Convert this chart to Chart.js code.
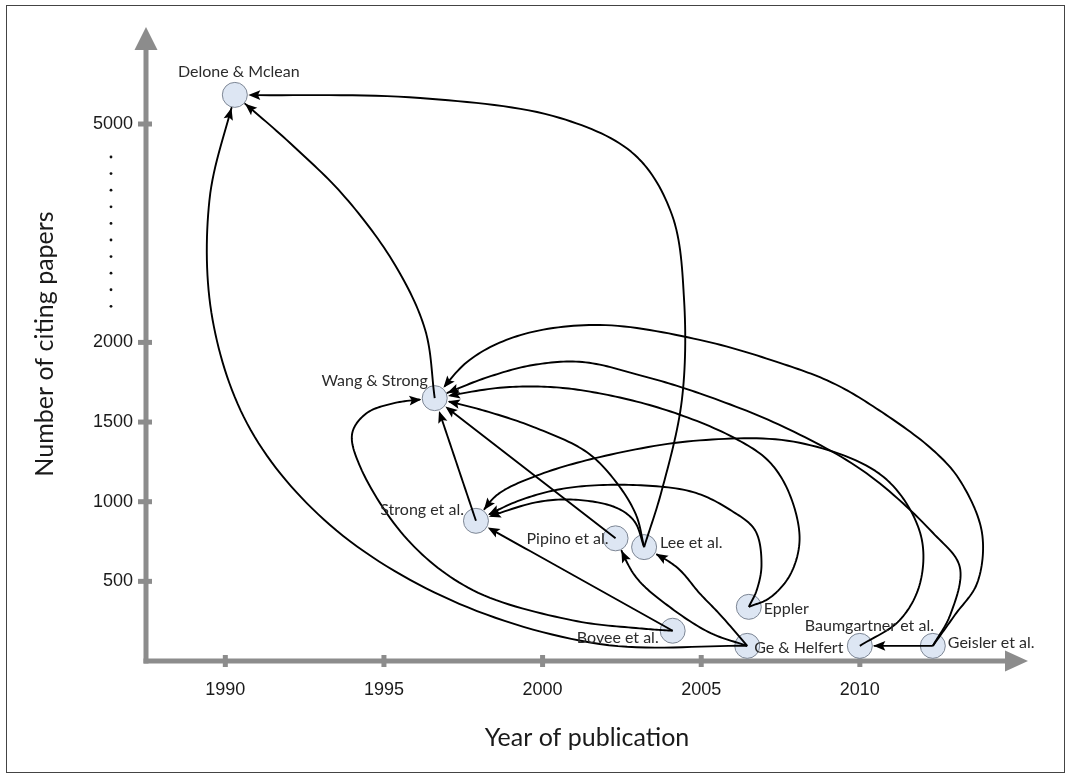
<!DOCTYPE html>
<html lang="en">
<head>
<meta charset="UTF-8">
<title>Citation graph</title>
<script src="https://cdn.jsdelivr.net/npm/chart.js@4.4.1/dist/chart.umd.min.js"></script>
<style>
  html, body { margin: 0; padding: 0; background: #fff; }
  #wrap { width: 1071px; height: 779px; }
</style>
</head>
<body>
<div id="wrap"><canvas id="citeChart" width="1071" height="779"></canvas></div>
<script>
// papers (nodes of the graph)
const papers = ['Delone & Mclean', 'Wang & Strong', 'Strong et al.', 'Pipino et al.', 'Lee et al.',
  'Bovee et al.', 'Eppler', 'Ge & Helfert', 'Baumgartner et al.', 'Geisler et al.'];
const pubYears = [1990.3, 1996.6, 1997.9, 2002.3, 2003.2, 2004.1, 2006.5, 2006.45, 2010.0, 2012.3];
const citingPapers = [5400, 1650, 880, 770, 715, 190, 340, 95, 95, 95];

const xTicks = [1990, 1995, 2000, 2005, 2010];
const yTicks = [500, 1000, 1500, 2000, 5000];

// citations: citing paper index -> cited paper index
const citeFrom = [7, 1, 4, 2, 3, 4, 9, 9, 6, 8, 6, 4, 5, 5, 7, 7, 9];
const citeTo   = [0, 0, 0, 1, 1, 1, 1, 1, 1, 2, 2, 2, 2, 1, 3, 4, 8];
// points each citation arrow passes through, as [year, citing papers]
const citeRoutes = [
  [[2001.8, 107], [1997.1, 383], [1993.3, 854], [1990.8, 1450], [1989.6, 2308], [1989.5, 3956]],
  [[1996.3, 2171], [1995.35, 3063], [1993.77, 3997], [1992.04, 4739]],
  [[2003.76, 1073], [2004.39, 1638], [2004.46, 2582], [2004.08, 3750], [2002.91, 4574],
   [2000.55, 5083], [1996.14, 5357]],
  [],
  [],
  [[2002.95, 915], [2002.35, 1115], [2001.4, 1310], [1999.7, 1470], [1998.1, 1575]],
  [[2013.0, 290], [2013.7, 490], [2013.85, 805], [2013.15, 1135], [2012.3, 1325], [2010.6, 1575],
   [2009.15, 1745], [2007.5, 1870], [2004.95, 2035], [2001.8, 2240], [1999.3, 2100], [1997.7, 1890]],
  [[2012.85, 290], [2013.15, 590], [2012.3, 805], [2010.2, 1180], [2007.6, 1470], [2004.95, 1680],
   [2003.05, 1795], [2001.25, 1877], [1999.7, 1858], [1998.2, 1777]],
  [[2007.15, 395], [2007.8, 540], [2008.1, 760], [2007.8, 1040], [2007.15, 1250], [2006.0, 1405],
   [2003.9, 1575], [2001.8, 1680], [2000.25, 1720], [1998.65, 1715]],
  [[2011.25, 255], [2011.9, 490], [2011.9, 805], [2010.75, 1155], [2008.1, 1370], [2004.95, 1385],
   [2001.8, 1280], [1999.7, 1155], [1998.55, 1040]],
  [[2006.75, 445], [2006.9, 605], [2006.7, 820], [2005.9, 950], [2004.75, 1060], [2002.85, 1105],
   [2000.75, 1085], [1999.3, 1010]],
  [[2002.9, 875], [2002.35, 960], [2001.2, 1010], [1999.9, 1000]],
  [],
  [[2003.05, 205], [2000.95, 255], [1997.8, 445], [1995.75, 760], [1994.25, 1220], [1994.0, 1430],
   [1994.45, 1555], [1995.35, 1620]],
  [[2005.3, 175], [2004.0, 340], [2002.95, 525]],
  [[2005.6, 290], [2004.95, 425], [2004.25, 585]],
  []
];

// label placement next to each node: [align, dx, dy]
const labelPlacement = [
  ['center', 4, -23], ['right', -7, -17], ['right', -12, -11], ['right', -7, 1], ['left', 16, -4],
  ['right', -14, 7], ['left', 15, 2], ['left', 7, 2], ['left', -55, -20], ['left', 15, -3]
];

// the y axis is broken above 2000
const BREAK = 2000, SQUEEZE = 0.457;
const toAxis = v => v <= BREAK ? v : BREAK + (v - BREAK) * SQUEEZE;

const GREY = '#8c8c8c';
const NODE_R = 12.5;
const LABEL_FONT = '16px Lato';

function centripetal(p0, p1, p2, p3, s) {
  const d = (a, b) => Math.max(Math.sqrt(Math.hypot(b.x - a.x, b.y - a.y)), 1e-4);
  const t0 = 0, t1 = t0 + d(p0, p1), t2 = t1 + d(p1, p2), t3 = t2 + d(p2, p3);
  const t = t1 + (t2 - t1) * s;
  const lerp = (a, b, ta, tb) => ({
    x: (tb - t) / (tb - ta) * a.x + (t - ta) / (tb - ta) * b.x,
    y: (tb - t) / (tb - ta) * a.y + (t - ta) / (tb - ta) * b.y
  });
  const A1 = lerp(p0, p1, t0, t1), A2 = lerp(p1, p2, t1, t2), A3 = lerp(p2, p3, t2, t3);
  const B1 = lerp(A1, A2, t0, t2), B2 = lerp(A2, A3, t1, t3);
  return lerp(B1, B2, t1, t2);
}

function smoothPath(pts) {
  if (pts.length === 2) {
    const out = [];
    for (let s = 0; s <= 40; s++) {
      out.push({x: pts[0].x + (pts[1].x - pts[0].x) * s / 40, y: pts[0].y + (pts[1].y - pts[0].y) * s / 40});
    }
    return out;
  }
  const n = pts.length;
  const ext = [
    {x: 2 * pts[0].x - pts[1].x, y: 2 * pts[0].y - pts[1].y},
    ...pts,
    {x: 2 * pts[n - 1].x - pts[n - 2].x, y: 2 * pts[n - 1].y - pts[n - 2].y}
  ];
  const out = [pts[0]];
  for (let i = 1; i < ext.length - 2; i++) {
    for (let s = 1; s <= 16; s++) out.push(centripetal(ext[i - 1], ext[i], ext[i + 1], ext[i + 2], s / 16));
  }
  return out;
}

const graphPlugin = {
  id: 'citeGraph',
  beforeDatasetsDraw(chart) {
    const {ctx, chartArea: a, scales: {x, y}} = chart;
    ctx.save();
    // outer frame
    ctx.strokeStyle = '#444';
    ctx.lineWidth = 1;
    ctx.strokeRect(6.5, 5.5, 1058, 767);
    // axis lines with arrow heads
    ctx.fillStyle = GREY;
    ctx.fillRect(a.left - 2.5, a.top + 20, 5, a.bottom - a.top - 20 + 2.5);
    ctx.fillRect(a.left - 2.5, a.bottom - 2.5, a.right - a.left - 20, 5);
    ctx.beginPath();
    ctx.moveTo(a.left, a.top);
    ctx.lineTo(a.left - 11.5, a.top + 23);
    ctx.lineTo(a.left + 11.5, a.top + 23);
    ctx.closePath();
    ctx.fill();
    ctx.beginPath();
    ctx.moveTo(a.right, a.bottom);
    ctx.lineTo(a.right - 23, a.bottom - 10.5);
    ctx.lineTo(a.right - 23, a.bottom + 10.5);
    ctx.closePath();
    ctx.fill();
    // tick marks
    xTicks.forEach(v => {
      const px = x.getPixelForValue(v);
      ctx.fillRect(px - 2.5, a.bottom - 6, 5, 12);
    });
    yTicks.forEach(v => {
      const py = y.getPixelForValue(toAxis(v));
      ctx.fillRect(a.left - 8, py - 2.5, 14, 5);
    });
    // dots marking the break between 2000 and 5000
    const pHi = y.getPixelForValue(toAxis(5000)), pLo = y.getPixelForValue(toAxis(2000));
    ctx.fillStyle = '#111';
    for (let i = 0; i < 10; i++) {
      const t = 0.151 + i * (0.684 / 9);
      ctx.beginPath();
      ctx.arc(a.left - 35, pHi + (pLo - pHi) * t, 1.4, 0, Math.PI * 2);
      ctx.fill();
    }
    ctx.restore();
  },
  afterDatasetsDraw(chart) {
    const {ctx, scales: {x, y}} = chart;
    const toPx = (yr, v) => ({x: x.getPixelForValue(yr), y: y.getPixelForValue(toAxis(v))});
    ctx.save();
    ctx.strokeStyle = '#000';
    ctx.fillStyle = '#000';
    ctx.lineWidth = 1.9;
    ctx.lineJoin = 'round';
    citeFrom.forEach((s, i) => {
      const t = citeTo[i];
      const pts = [toPx(pubYears[s], citingPapers[s])];
      citeRoutes[i].forEach(([yr, v]) => pts.push(toPx(yr, v)));
      const tgt = toPx(pubYears[t], citingPapers[t]);
      pts.push(tgt);
      const path = smoothPath(pts);
      const R = NODE_R + 1;
      const dist = p => Math.hypot(p.x - tgt.x, p.y - tgt.y);
      let k = path.findIndex(p => dist(p) <= R);
      if (k < 1) k = path.length - 1;
      const p1 = path[k - 1], p2 = path[k];
      const d1 = dist(p1), d2 = dist(p2);
      const f = (d1 - R) / Math.max(d1 - d2, 1e-6);
      const tip = {x: p1.x + (p2.x - p1.x) * f, y: p1.y + (p2.y - p1.y) * f};
      let j = k - 1;
      while (j > 0 && Math.hypot(path[j].x - tip.x, path[j].y - tip.y) < 10) j--;
      let dx = tip.x - path[j].x, dy = tip.y - path[j].y;
      const len = Math.hypot(dx, dy) || 1;
      dx /= len; dy /= len;
      ctx.beginPath();
      ctx.moveTo(path[0].x, path[0].y);
      for (let m = 1; m < k; m++) ctx.lineTo(path[m].x, path[m].y);
      ctx.lineTo(tip.x - dx * 7, tip.y - dy * 7);
      ctx.stroke();
      const L = 12, W = 4.8;
      ctx.beginPath();
      ctx.moveTo(tip.x, tip.y);
      ctx.lineTo(tip.x - dx * L - dy * W, tip.y - dy * L + dx * W);
      ctx.lineTo(tip.x - dx * L * 0.8, tip.y - dy * L * 0.8);
      ctx.lineTo(tip.x - dx * L + dy * W, tip.y - dy * L - dx * W);
      ctx.closePath();
      ctx.fill();
    });
    // paper names
    ctx.font = LABEL_FONT;
    ctx.fillStyle = '#2b2b2b';
    ctx.textBaseline = 'middle';
    papers.forEach((name, i) => {
      const p = toPx(pubYears[i], citingPapers[i]);
      const [align, dx, dy] = labelPlacement[i];
      ctx.textAlign = align;
      ctx.fillText(name, p.x + dx, p.y + dy);
    });
    ctx.restore();
  }
};

new Chart(document.getElementById('citeChart'), {
  type: 'scatter',
  data: {
    datasets: [{
      label: 'Papers',
      data: papers.map((n, i) => ({x: pubYears[i], y: toAxis(citingPapers[i])})),
      pointRadius: NODE_R,
      pointHoverRadius: NODE_R,
      pointBackgroundColor: '#dde6f3',
      pointBorderColor: '#7d8694',
      pointBorderWidth: 1,
      clip: false
    }]
  },
  options: {
    responsive: false,
    animation: false,
    events: [],
    layout: { padding: { left: 0, top: 27, right: 43, bottom: 0 } },
    plugins: { legend: { display: false }, tooltip: { enabled: false } },
    scales: {
      x: {
        type: 'linear',
        min: 1987.5,
        max: 2015.3,
        afterBuildTicks: s => { s.ticks = xTicks.map(v => ({value: v})); },
        afterFit: s => { s.height = 118; },
        grid: { display: false, drawTicks: false },
        border: { display: false },
        ticks: {
          autoSkip: false, maxRotation: 0, padding: 18, color: '#1a1a1a',
          font: { family: 'Liberation Sans', size: 18 },
          callback: v => String(v)
        },
        title: {
          display: true, text: 'Year of publication', color: '#1a1a1a',
          font: { family: 'Lato', size: 25 }, padding: { top: 0, bottom: 26 }
        }
      },
      y: {
        type: 'linear',
        min: 0,
        max: 3980,
        afterBuildTicks: s => { s.ticks = yTicks.map(v => ({value: toAxis(v)})); },
        afterFit: s => { s.width = 146; },
        grid: { display: false, drawTicks: false },
        border: { display: false },
        ticks: {
          autoSkip: false, padding: 13, color: '#1a1a1a',
          font: { family: 'Liberation Sans', size: 18 },
          callback: (v, i) => String(yTicks[i])
        },
        title: {
          display: true, text: 'Number of citing papers', color: '#1a1a1a',
          font: { family: 'Lato', size: 25 }, padding: { top: 30, bottom: 0 }
        }
      }
    }
  },
  plugins: [graphPlugin]
});
</script>
</body>
</html>
